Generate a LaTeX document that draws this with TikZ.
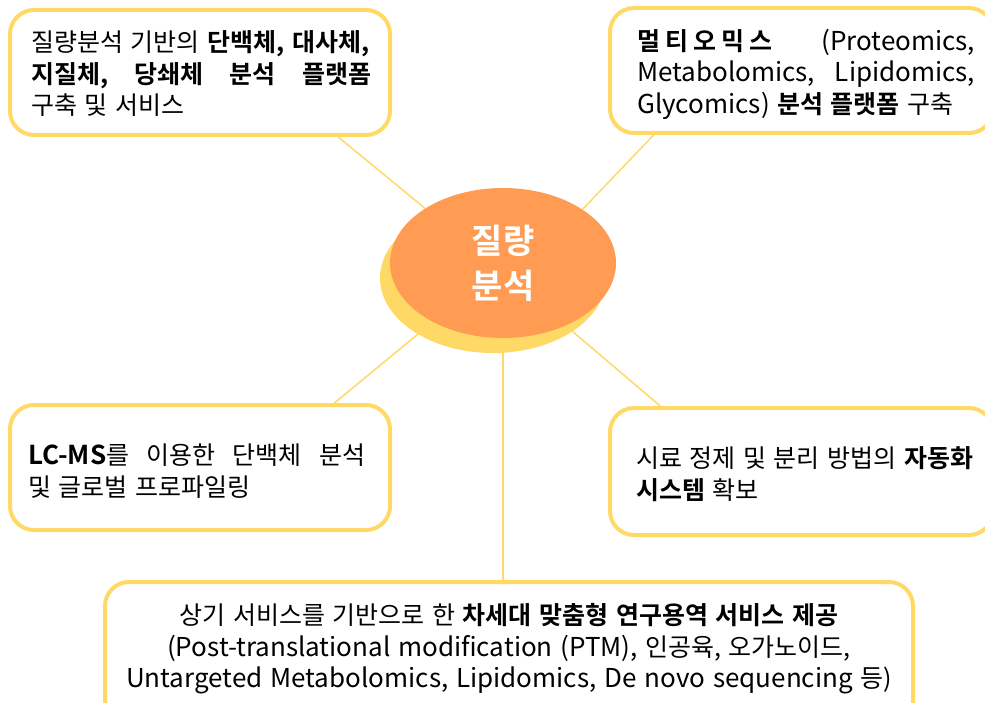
\documentclass[tikz,border=0pt]{standalone}
\usepackage{fontspec}
\setmainfont{Noto Sans CJK KR}[BoldFont={Noto Sans CJK KR Bold},WordSpace=1.35]
\usetikzlibrary{shapes.geometric,calc}
\definecolor{bordery}{HTML}{FFD966}
\definecolor{orng}{HTML}{FF9B52}
\newcommand\La[1]{{\fontsize{26}{31.5}\selectfont #1}}
\pgfdeclarelayer{bg}
\pgfdeclarelayer{mid}
\pgfsetlayers{bg,mid,main}
\frenchspacing
\begin{document}
\begin{tikzpicture}[x=1pt,y=-1pt,
  box/.style={draw=bordery, line width=4pt, rounded corners=24pt, fill=white, inner sep=0pt},
  txt/.style={anchor=west, align=left, inner sep=0pt, font=\fontsize{25}{31.5}\selectfont\frenchspacing},
  conn/.style={draw=bordery, line width=1.5pt},
  blob/.style={ellipse, minimum width=226pt, minimum height=150pt, inner sep=0pt}]
\useasboundingbox (0,0) rectangle (985,703);
\clip (0,0) rectangle (985,703);

% boxes
\node[box, minimum width=380pt, minimum height=125pt] (b1) at (200,72.5) {};
\node[box, minimum width=383pt, minimum height=125pt] (b2) at (801.5,70.5) {};
\node[box, minimum width=380pt, minimum height=125pt] (b3) at (200,467.5) {};
\node[box, minimum width=383pt, minimum height=127pt] (b4) at (801.5,471.5) {};
\node[box, minimum width=808pt, minimum height=143pt] (b5) at (509,653.5) {};

% center
\begin{pgfonlayer}{mid}
\node[blob, fill=bordery] (sh) at (493,278) {};
\end{pgfonlayer}
\node[blob, fill=orng, text=white, align=center, font=\fontsize{34}{45}\selectfont\bfseries] (el) at (503,263) {질량\\분석};

% connectors
\begin{pgfonlayer}{bg}
\draw[conn] (el.145) -- ($(b1.south west)!0.86!(b1.south east)$);
\draw[conn] (el.34) -- ($(b2.south west)!0.118!(b2.south east)$);
\draw[conn] (el.-140) -- ($(b3.north west)!0.85!(b3.north east)$);
\draw[conn] (el.-45) -- ($(b4.north west)!0.135!(b4.north east)$);
\draw[conn] (el.south) -- (el.south |- b5.north);
\end{pgfonlayer}

% texts
\node[txt] (t1) at (31,74) {질량분석 기반의 \textbf{단백체, 대사체,}\\
\makebox[340pt][s]{\textbf{지질체, 당쇄체 분석 플랫폼}}\\
구축 및 서비스};
\node[txt] (t2) at (637,74) {\makebox[338pt][s]{\textbf{멀\hspace{5pt}티\hspace{5pt}오\hspace{5pt}믹\hspace{5pt}스} \La{(Proteomics,}}\\
\makebox[338pt][s]{\La{Metabolomics, Lipidomics,}}\\
\La{Glycomics)} \textbf{분석 플랫폼} 구축};
\node[txt] (t3) at (28,471) {\makebox[337pt][s]{\textbf{\La{LC-MS}}를 이용한 단백체 분석}\\
및 글로벌 프로파일링};
\node[txt] (t4) at (636,474) {시료 정제 및 분리 방법의 \textbf{자동화}\\
\textbf{시스템} 확보};
\node[txt, anchor=center, align=center] (t5) at (509,649) {상기 서비스를 기반으로 한 \textbf{차세대 맞춤형 연구용역 서비스 제공}\\
\La{(Post-translational modification (PTM),} 인공육, 오가노이드,\\
\La{Untargeted Metabolomics, Lipidomics, De novo sequencing} 등)};
\end{tikzpicture}
\end{document}
